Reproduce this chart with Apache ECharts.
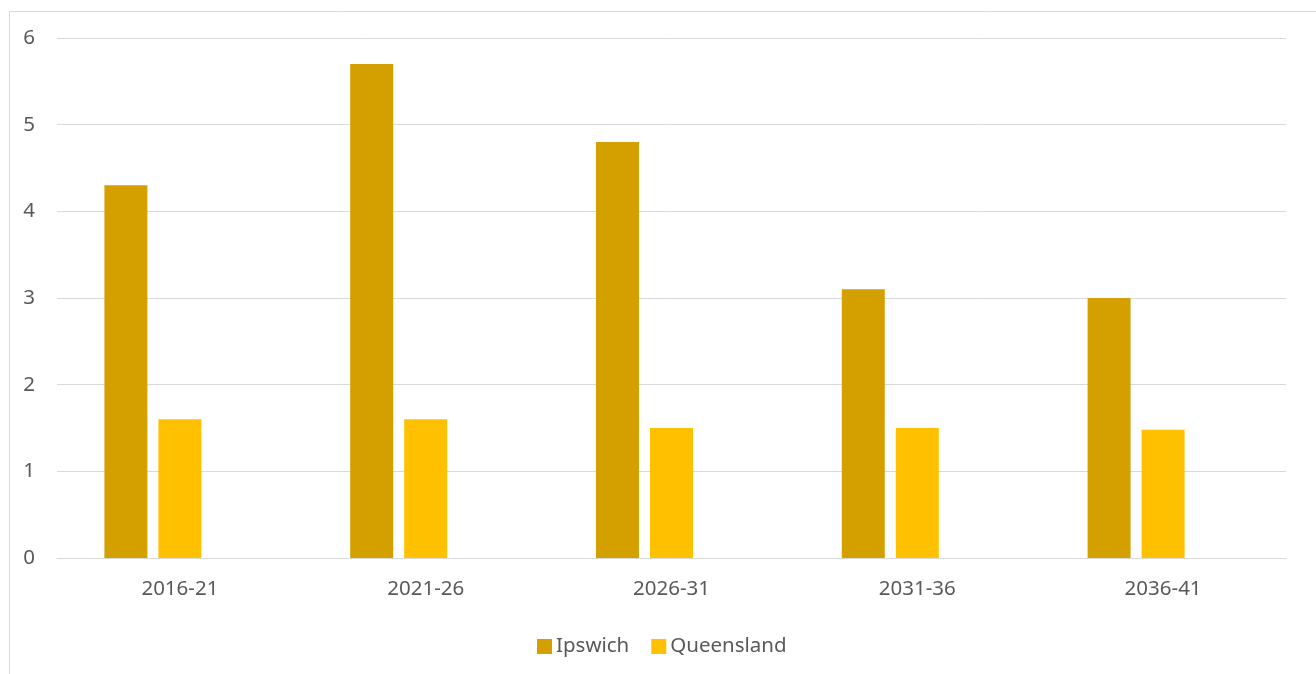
<!DOCTYPE html>
<html>
<head>
<meta charset="utf-8">
<script src="https://cdn.jsdelivr.net/npm/echarts@6/dist/echarts.min.js"></script>
<style>
html,body{margin:0;padding:0;background:#fff;}
#c{width:1316px;height:674px;}
</style>
</head>
<body>
<div id="c"></div>
<script>
const categories = ['2016-21','2021-26','2026-31','2031-36','2036-41'];
const ipswich = [4.3, 5.7, 4.8, 3.1, 3.0];
const queensland = [1.6, 1.6, 1.5, 1.5, 1.48];
const emptySeries = [null, null, null, null, null];
const yTicks = {min: 0, max: 6, interval: 1};

const chart = echarts.init(document.getElementById('c'), null, {renderer: 'canvas'});
const font = '"Noto Sans", "Open Sans", sans-serif';
chart.setOption({
  animation: false,
  backgroundColor: '#ffffff',
  graphic: [{
    type: 'rect', left: 7, top: 9, silent: true,
    shape: {width: 1307, height: 700},
    style: {fill: 'none', stroke: '#D9D9D9', lineWidth: 1}
  }],
  grid: {left: 57, right: 30, top: 38, bottom: 116, containLabel: false, outerBoundsMode: 'none'},
  legend: {
    data: ['Ipswich', 'Queensland'],
    left: 532, top: 631,
    itemWidth: 15, itemHeight: 15, itemGap: 22,
    icon: 'rect',
    textStyle: {color: '#595959', fontSize: 20.5, fontFamily: font, padding: [0, 0, 0, -1]}
  },
  xAxis: {
    type: 'category',
    data: categories,
    axisLine: {show: true, lineStyle: {color: '#D9D9D9', width: 1}},
    axisTick: {show: false},
    axisLabel: {color: '#595959', fontSize: 20.5, fontFamily: font, margin: 21}
  },
  yAxis: {
    type: 'value',
    min: yTicks.min, max: yTicks.max, interval: yTicks.interval,
    axisLine: {show: false},
    axisTick: {show: false},
    splitLine: {lineStyle: {color: '#D9D9D9', width: 1}},
    axisLabel: {color: '#595959', fontSize: 20.5, fontFamily: font, margin: 22}
  },
  series: [
    {name: 'Ipswich', type: 'bar', data: ipswich, barWidth: 43, barGap: '25.6%', itemStyle: {color: '#D4A000'}},
    {name: 'Queensland', type: 'bar', data: queensland, barWidth: 43, barGap: '25.6%', itemStyle: {color: '#FFC000'}},
    {name: 'blank', type: 'bar', data: emptySeries, barWidth: 43, barGap: '25.6%', itemStyle: {color: '#ffffff'}}
  ]
});
</script>
</body>
</html>
